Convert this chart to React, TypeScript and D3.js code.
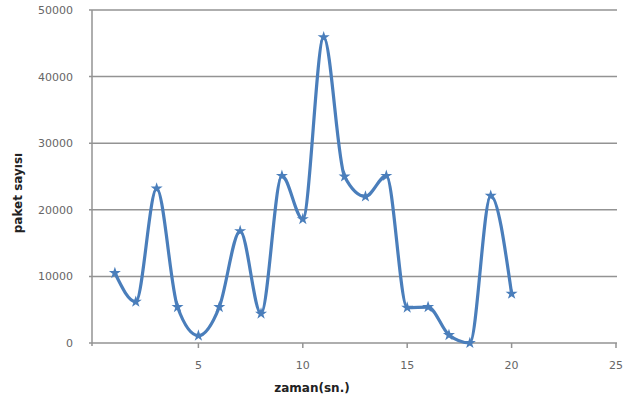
import React, { useEffect, useRef } from 'react';
import * as d3 from 'd3';

// zaman (sn.) and paket sayisi
const times = [1, 2, 3, 4, 5, 6, 7, 8, 9, 10, 11, 12, 13, 14, 15, 16, 17, 18, 19, 20];
const packets = [10500, 6200, 23200, 5400, 1100, 5400, 16800, 4400, 25100, 18600,
  45900, 25000, 22000, 25100, 5300, 5400, 1200, 0, 22100, 7400];
const xTicks = [5, 10, 15, 20, 25];
const yTicks = [0, 10000, 20000, 30000, 40000, 50000];

const App = () => {
  const ref = useRef<SVGSVGElement>(null);

  useEffect(() => {
    const width = 626;
    const height = 401;
    const margin = { top: 10, right: 10, bottom: 58, left: 94 };

    const svg = d3.select(ref.current);
    svg.selectAll('*').remove();

    const x = d3.scaleLinear().domain([0, 25]).range([margin.left, 616]);
    const y = d3.scaleLinear().domain([0, 50000]).range([height - margin.bottom, margin.top]);

    // gridlines
    svg.append('g')
      .selectAll('line')
      .data(yTicks)
      .join('line')
      .attr('x1', margin.left - 5)
      .attr('x2', 617)
      .attr('y1', d => y(d))
      .attr('y2', d => y(d))
      .attr('stroke', '#939393')
      .attr('stroke-width', 1.5);

    // axis lines
    svg.append('line')
      .attr('x1', margin.left - 2).attr('x2', margin.left - 2)
      .attr('y1', y(50000)).attr('y2', y(0) + 3)
      .attr('stroke', '#939393').attr('stroke-width', 1.5);

    svg.append('g')
      .selectAll('line')
      .data(xTicks)
      .join('line')
      .attr('x1', d => x(d)).attr('x2', d => x(d))
      .attr('y1', y(0)).attr('y2', y(0) + 5)
      .attr('stroke', '#939393').attr('stroke-width', 1.5);

    const font = '"DejaVu Sans", sans-serif';

    svg.append('g')
      .selectAll('text')
      .data(yTicks)
      .join('text')
      .attr('x', 73)
      .attr('y', d => y(d) + 4)
      .attr('text-anchor', 'end')
      .attr('font-family', font)
      .attr('font-size', 11)
      .attr('fill', '#666')
      .text(d => String(d));

    svg.append('g')
      .selectAll('text')
      .data(xTicks)
      .join('text')
      .attr('x', d => x(d))
      .attr('y', 369)
      .attr('text-anchor', 'middle')
      .attr('font-family', font)
      .attr('font-size', 11)
      .attr('fill', '#666')
      .text(d => String(d));

    // axis titles
    svg.append('text')
      .attr('x', 312)
      .attr('y', 392)
      .attr('text-anchor', 'middle')
      .attr('font-family', font)
      .attr('font-weight', 'bold')
      .attr('font-size', 12)
      .attr('fill', '#222')
      .text('zaman(sn.)');

    svg.append('text')
      .attr('transform', 'translate(22,193) rotate(-90)')
      .attr('text-anchor', 'middle')
      .attr('font-family', font)
      .attr('font-weight', 'bold')
      .attr('font-size', 12)
      .attr('fill', '#222')
      .text('paket sayısı');

    const data = times.map((t, i) => ({ t, v: packets[i] }));

    const line = d3.line<{ t: number; v: number }>()
      .x(d => x(d.t))
      .y(d => y(d.v))
      .curve(d3.curveMonotoneX);

    svg.append('path')
      .datum(data)
      .attr('fill', 'none')
      .attr('stroke', '#4a7ebb')
      .attr('stroke-width', 3.2)
      .attr('stroke-linejoin', 'round')
      .attr('d', line);

    svg.append('g')
      .selectAll('path')
      .data(data)
      .join('path')
      .attr('transform', d => `translate(${x(d.t)},${y(d.v)})`)
      .attr('d', d3.symbol(d3.symbolStar, 45)())
      .attr('fill', '#4a7ebb');

    svg.attr('width', width).attr('height', height);
  }, []);

  return (
    <svg
      ref={ref}
      style={{ position: 'absolute', left: 0, top: 0, background: '#fff' }}
    />
  );
};

export default App;
